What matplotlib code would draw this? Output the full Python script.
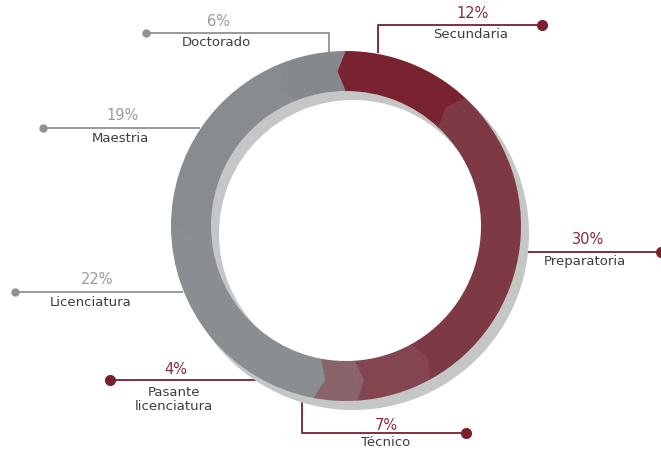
import matplotlib
matplotlib.use("Agg")
import matplotlib.pyplot as plt
import numpy as np
from matplotlib.patches import Polygon, Wedge

# data (clockwise from the top)
categories = ["Secundaria", "Preparatoria", "Técnico", "Pasante\nlicenciatura",
              "Licenciatura", "Maestria", "Doctorado"]
shares = [12, 30, 7, 4, 22, 19, 6]
pct_labels = [f"{v}%" for v in shares]

seg_colors = ["#7a2330", "#7e3a44", "#83454e", "#89646a", "#8b8e90", "#898c8e", "#86898b"]
RED_TXT = "#8b2b3b"
GRAY_TXT = "#9b9b9b"
RED_LINE = "#7b1f2e"
GRAY_LINE = "#8f9193"

W, H = 661, 454
CX, CY = 346, H - 226
R_OUT, RING = 175, 40


def Y(y):
    # pixel row -> data y
    return H - y


fig = plt.figure(figsize=(W / 100, H / 100), dpi=100)
fig.patch.set_facecolor("white")
ax = fig.add_axes([0, 0, 1, 1])

# drop shadow behind the ring
ax.add_patch(Wedge((CX + 7, CY - 8), R_OUT + 1, 0, 360, width=RING + 2,
                   facecolor="#c5c6c6", edgecolor="none", zorder=2))

wedges, _ = ax.pie(shares, colors=seg_colors, radius=R_OUT, center=(CX, CY),
                   startangle=90, counterclock=False,
                   wedgeprops=dict(width=RING, linewidth=0))
for w in wedges:
    w.set_zorder(3)

# chevron tips: each segment pokes back into the previous one
starts = np.cumsum([0] + shares[:-1]) / sum(shares) * 360.0
r_in, r_mid = R_OUT - RING, R_OUT - RING / 2
delta = 3.0
for a, col in zip(starts, seg_colors):
    pts = []
    for r, ang in [(R_OUT, a), (r_mid, a - delta), (r_in, a)]:
        t = np.deg2rad(90 - ang)
        pts.append((CX + r * np.cos(t), CY + r * np.sin(t)))
    ax.add_patch(Polygon(pts, closed=True, facecolor=col, edgecolor=col,
                         linewidth=0.4, zorder=4))

# leader lines: points in pixels, colour, dot size
leaders = [
    ([(542, 25), (378, 25), (378, 53)], RED_LINE, 7),       # Secundaria
    ([(661, 252), (520, 252)], RED_LINE, 7),               # Preparatoria
    ([(466, 433), (302, 433), (302, 397)], RED_LINE, 7),   # Técnico
    ([(110, 380), (257, 380)], RED_LINE, 7),               # Pasante
    ([(15, 292), (183, 292)], GRAY_LINE, 5),               # Licenciatura
    ([(43, 128), (200, 128)], GRAY_LINE, 5),               # Maestria
    ([(146, 33), (329, 33), (329, 52)], GRAY_LINE, 5),     # Doctorado
]
for pts, col, ms in leaders:
    xs = [p[0] for p in pts]
    ys = [Y(p[1]) for p in pts]
    ax.plot(xs, ys, color=col, linewidth=1.3, zorder=1, solid_capstyle="butt")
    ax.plot(xs[0], ys[0], "o", color=col, markersize=ms, zorder=1, clip_on=False)

# text positions (pct centre, label centre) in pixels
pct_pos = [(473, 14), (588, 240), (386, 425), (176, 370), (97, 280), (123, 115), (219, 21)]
lab_pos = [(471, 34), (585, 262), (386, 443), (174, 400), (91, 303), (120, 139), (216, 43)]

for i, cat in enumerate(categories):
    pc = RED_TXT if i < 4 else GRAY_TXT
    px, py = pct_pos[i]
    ax.text(px, Y(py), pct_labels[i], ha="center", va="center", fontsize=10.5,
            color=pc, family="DejaVu Sans")
    lx, ly = lab_pos[i]
    ax.text(lx, Y(ly), cat, ha="center", va="center", fontsize=9.5,
            color="#3d3d3d", family="DejaVu Sans", linespacing=1.1)

ax.set_xlim(0, W)
ax.set_ylim(0, H)
ax.set_aspect("equal")
ax.axis("off")

fig.savefig("out.png", dpi=100, facecolor="white")
